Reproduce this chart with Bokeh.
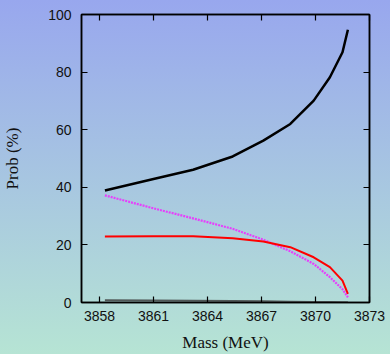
from bokeh.plotting import figure
from bokeh.models import LinearAxis, FixedTicker, Range1d
from bokeh.embed import file_html
from bokeh.resources import INLINE

# Data
mass = [3858.3, 3861.0, 3863.2, 3865.4, 3867.1, 3868.6, 3869.9, 3870.8, 3871.5, 3871.8]
prob_total = [38.9, 42.9, 46.1, 50.7, 56.2, 62.0, 70.1, 78.2, 86.9, 94.7]
prob_red = [22.9, 23.0, 23.0, 22.3, 21.2, 19.2, 15.7, 12.3, 7.6, 3.0]
prob_magenta = [37.2, 32.7, 29.2, 25.6, 21.8, 17.8, 13.4, 8.8, 4.6, 1.8]
prob_gray = [0.8, 0.7, 0.6, 0.5, 0.4, 0.3, 0.2, 0.15, 0.1, 0.05]

x_ticks = [3858, 3861, 3864, 3867, 3870, 3873]
y_ticks = [0, 20, 40, 60, 80, 100]
x_title = "Mass (MeV)"
y_title = "Prob (%)"

W, H = 390, 354
p = figure(width=W, height=H, output_backend="svg", toolbar_location=None,
           x_range=Range1d(3857, 3873), y_range=Range1d(0, 100),
           min_border_left=81, min_border_right=21, min_border_top=14,
           min_border_bottom=52, x_axis_label=x_title, y_axis_label=y_title)
p.styles = {"background": "linear-gradient(to bottom, #98a7ee, #b6e4d4)"}
p.background_fill_alpha = 0
p.border_fill_alpha = 0
p.outline_line_color = "black"
p.outline_line_width = 1.5
p.grid.visible = False

def style_axis(ax, show_labels):
    ax.axis_line_color = "black"
    ax.axis_line_width = 1.5
    ax.major_tick_in = 6
    ax.major_tick_out = 0
    ax.major_tick_line_width = 1.2
    ax.minor_tick_line_color = None
    ax.major_label_text_font = "Liberation Sans"
    ax.major_label_text_font_size = "14px"
    ax.major_label_text_color = "#111111"
    ax.axis_label_text_font = "Liberation Serif"
    ax.axis_label_text_font_size = "17px"
    ax.axis_label_text_font_style = "normal"
    ax.axis_label_text_color = "#111111"
    if not show_labels:
        ax.major_label_text_alpha = 0
        ax.major_label_text_font_size = "1px"

xa = p.xaxis[0]
ya = p.yaxis[0]
xa.ticker = FixedTicker(ticks=x_ticks)
ya.ticker = FixedTicker(ticks=y_ticks)
style_axis(xa, True)
style_axis(ya, True)
xa.major_label_standoff = 8
xa.axis_label_standoff = 9
ya.major_label_standoff = 10
ya.axis_label_standoff = 23

top = LinearAxis(ticker=FixedTicker(ticks=x_ticks))
right = LinearAxis(ticker=FixedTicker(ticks=y_ticks))
style_axis(top, False)
style_axis(right, False)
p.add_layout(top, "above")
p.add_layout(right, "right")

p.line(mass, prob_gray, line_color="#505858", line_width=2)
p.line(mass, prob_magenta, line_color="#e640fb", line_width=2.2, line_dash="2 1")
p.line(mass, prob_red, line_color="#ff0000", line_width=2)
p.line(mass, prob_total, line_color="black", line_width=2.5)

open("out.html", "w").write(file_html(p, INLINE))
